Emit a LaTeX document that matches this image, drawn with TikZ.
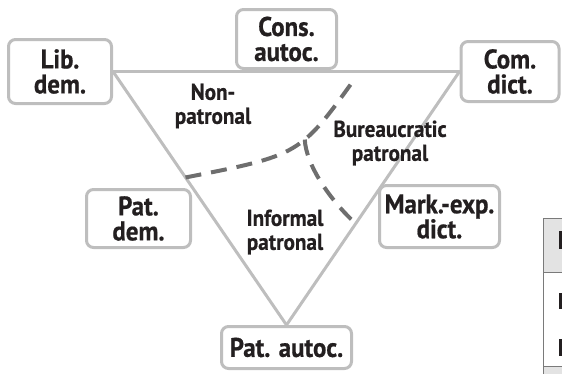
\documentclass[tikz,border=0pt]{standalone}
\usepackage{fontspec}
\setmainfont{PT Sans}[FakeStretch=0.92, BoldFeatures={FakeBold=0.6}]
\usetikzlibrary{calc}
\definecolor{boxgray}{HTML}{BEBEBE}
\definecolor{dashgray}{HTML}{6E6E6E}
\definecolor{textblack}{HTML}{231F20}
\definecolor{tableline}{HTML}{7A7A7A}
\definecolor{tablefill}{HTML}{E3E3E3}
\pgfdeclarelayer{bg}
\pgfsetlayers{bg,main}
\begin{document}
\begin{tikzpicture}[x=1pt,y=-1pt,
  box/.style={draw=boxgray, line width=3pt, rounded corners=7pt, fill=white,
    align=center, inner sep=0pt, text=textblack,
    font=\bfseries\fontsize{27}{25}\selectfont},
  region/.style={align=center, inner sep=0pt, text=textblack,
    font=\bfseries\fontsize{23}{24}\selectfont},
  tri/.style={draw=boxgray, line width=3pt},
  divider/.style={draw=dashgray, line width=4pt, dash pattern=on 16pt off 10pt},
  tbl/.style={draw=tableline, line width=1pt}]
\useasboundingbox (0,0) rectangle (562,373);
% boxes
\node[box, minimum width=103pt, minimum height=64pt] (lib) at (60,71.5) {Lib.\\dem.};
\node[box, minimum width=100pt, minimum height=59pt] (cons) at (286.5,39) {Cons.\\autoc.};
\node[box, minimum width=98pt, minimum height=60pt] (com) at (510,71.5) {Com.\\dict.};
\node[box, minimum width=104pt, minimum height=58pt] (patdem) at (138.5,218.5) {Pat.\\dem.};
\node[box, minimum width=120pt, minimum height=62pt] (mark) at (439.5,216.5) {Mark.-exp.\\dict.};
\node[box, minimum width=130pt, minimum height=42pt] (patautoc) at (286.5,347.5) {Pat. autoc.};
% region labels
\node[region] (nonpat) at (213,106) {Non-\\patronal};
\node[region] (bureau) at (390,143) {Bureaucratic\\patronal};
\node[region] (inform) at (285,232) {Informal\\patronal};
% triangle
\begin{pgfonlayer}{bg}
\coordinate (A) at (lib.east);
\coordinate (B) at (com.west);
\coordinate (C) at (patautoc.north);
\draw[tri] (A) -- (B);
\draw[tri] (B) -- (C);
\draw[tri] (C) -- (A);
\end{pgfonlayer}
% dashed dividers
\coordinate (d1s) at ($(A)!0.418!(C)$);
\coordinate (d1e) at (356,77);
\coordinate (d2e) at ($(B)!0.60!(C)$);
\path (d1s) .. controls (300,155) .. (d1e) coordinate[pos=0.6] (j);
\draw[divider] (d1s) .. controls (300,155) .. (d1e);
\draw[divider] (j) .. controls (306,165) and (330,200) .. (d2e);
% cut-off table at the right edge
\filldraw[tbl, fill=tablefill] (543,218) rectangle (570,272);
\draw[tbl] (543,272) rectangle (570,366);
\filldraw[tbl, fill=tablefill] (543,366) rectangle (570,380);
\fill[textblack] (559,231) rectangle (563,249);
\fill[textblack] (559,293) rectangle (563,309);
\fill[textblack] (559,339) rectangle (563,356);
\end{tikzpicture}
\end{document}
